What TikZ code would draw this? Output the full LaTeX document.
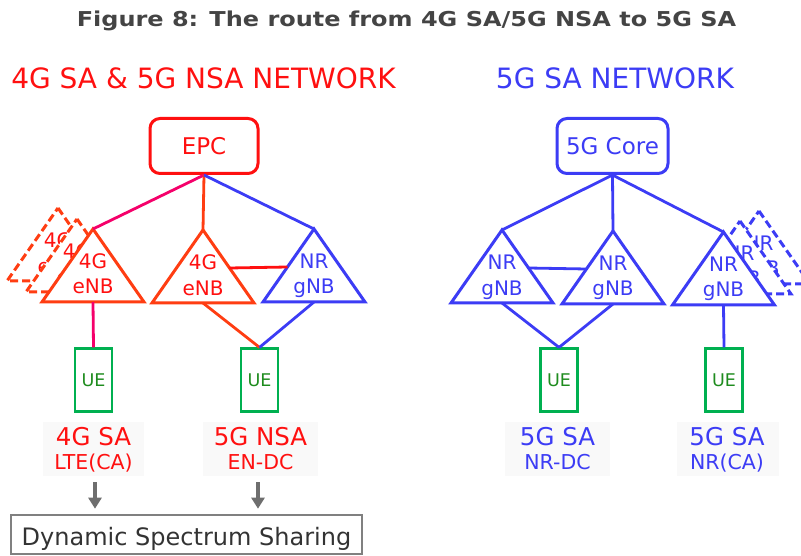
\documentclass[tikz,border=0pt]{standalone}
\usepackage{graphicx}
\usepackage{fontspec}
\setmainfont{DejaVu Sans}
\usetikzlibrary{arrows.meta}
\definecolor{cred}{HTML}{FF1010}
\definecolor{corg}{HTML}{FF3D12}
\definecolor{cpink}{HTML}{F5006A}
\definecolor{cblue}{HTML}{3C3CF5}
\definecolor{cgreen}{HTML}{00B050}
\definecolor{ctxtg}{HTML}{1E8C1E}
\definecolor{cgray}{HTML}{6E6E6E}
\definecolor{cbox}{HTML}{808080}
\definecolor{ctitle}{HTML}{444444}
\definecolor{cdss}{HTML}{333333}
\definecolor{clbg}{HTML}{F9F9F9}
\newcommand\myfs[1]{\fontsize{#1}{#1}\selectfont}
% #1 name, #2 x, #3 y (apex), #4 stroke colour, #5 extra style, #6 text colour, #7 line 1, #8 line 2
\newcommand\mytri[8]{%
  \coordinate (#1-top) at (#2,#3);
  \coordinate (#1-bot) at (#2,#3+73);
  \coordinate (#1-r) at (#2+26.5,#3+38);
  \coordinate (#1-l) at (#2-26.5,#3+38);
  \draw[tri, draw=#4, #5] (#1-top) -- ++(51,73) -- ++(-102,0) -- cycle;
  \node[tritext, text=#6] (#1-a) at (#2,#3+40) {#7};
  \node[tritext, text=#6] (#1-b) at (#2,#3+65) {#8};
}
\tikzset{
  tri/.style={line width=3pt, fill=white, miter limit=10},
  dsh/.style={dash pattern=on 8pt off 4pt},
  tritext/.style={anchor=base, inner sep=0pt, font=\myfs{20}},
  corebox/.style={draw, line width=3pt, rounded corners=10pt, fill=white, font=\myfs{23}, inner sep=0pt},
  conn/.style={line width=2.8pt},
  uebox/.style={draw=cgreen, line width=2.2pt, fill=white, minimum width=37pt, minimum height=63pt, inner sep=0pt, text=ctxtg, font=\myfs{17.5}},
  lblbg/.style={fill=clbg, minimum height=54pt, inner sep=0pt},
  lbla/.style={anchor=base, inner sep=0pt, font=\myfs{24.5}},
  lblb/.style={anchor=base, inner sep=0pt, font=\myfs{20.5}},
  garrow/.style={draw=cgray, line width=4pt, -{Triangle[length=11pt,width=13pt]}, shorten <=6pt, shorten >=5pt},
}
\begin{document}
\begin{tikzpicture}[x=1pt,y=-1pt]
\useasboundingbox (0,0) rectangle (801,556);
\clip (0,0) rectangle (801,556);
% title and headings
\node[anchor=base, inner sep=0pt, font=\bfseries\myfs{20.5}, text=ctitle] (title) at (406.5,27) {\scalebox{1.17}[1]{Figure 8: The route from 4G SA/5G NSA to 5G SA}};
\node[anchor=base, inner sep=0pt, font=\myfs{28}, text=cred] (h1) at (203.5,89) {4G SA \& 5G NSA NETWORK};
\node[anchor=base, inner sep=0pt, font=\myfs{28}, text=cblue] (h2) at (615,89) {5G SA NETWORK};
% cores
\node[corebox, draw=cred, text=cred, minimum width=108pt, minimum height=55pt] (epc) at (204,146) {EPC};
\node[corebox, draw=cblue, text=cblue, minimum width=111pt, minimum height=55pt] (core) at (612.5,146) {5G Core};
% left network triangles
\mytri{t1x}{58}{208}{corg}{dsh}{cred}{4G}{eNB}
\mytri{t1y}{77}{219}{corg}{dsh}{cred}{4G}{eNB}
\mytri{t1}{93}{229}{corg}{}{cred}{4G}{eNB}
\mytri{t2}{203}{230}{corg}{}{cred}{4G}{eNB}
\mytri{t3}{314}{229}{cblue}{}{cblue}{NR}{gNB}
% right network triangles
\mytri{t4}{502}{230}{cblue}{}{cblue}{NR}{gNB}
\mytri{t5}{613}{231}{cblue}{}{cblue}{NR}{gNB}
\mytri{t6x}{759}{211}{cblue}{dsh}{cblue}{NR}{gNB}
\mytri{t6y}{740}{221}{cblue}{dsh}{cblue}{NR}{gNB}
\mytri{t6}{723.5}{232}{cblue}{}{cblue}{NR}{gNB}
% UEs
\node[uebox] (ue1) at (93.5,380) {UE};
\node[uebox] (ue2) at (259.5,380) {UE};
\node[uebox] (ue3) at (559,380) {UE};
\node[uebox] (ue4) at (724,380) {UE};
% connectors left
\draw[conn, cpink] (epc.south) -- (t1-top);
\draw[conn, corg] (epc.south) -- (t2-top);
\draw[conn, cblue] (epc.south) -- (t3-top);
\draw[conn, cred] (t2-r) -- (t3-l);
\draw[conn, cpink] (t1-bot) -- (ue1.north);
\draw[conn, corg] (t2-bot) -- (ue2.north);
\draw[conn, cblue] (t3-bot) -- (ue2.north);
% connectors right
\draw[conn, cblue] (core.south) -- (t4-top);
\draw[conn, cblue] (core.south) -- (t5-top);
\draw[conn, cblue] (core.south) -- (t6-top);
\draw[conn, cblue] (t4-r) -- (t5-l);
\draw[conn, cblue] (t4-bot) -- (ue3.north);
\draw[conn, cblue] (t5-bot) -- (ue3.north);
\draw[conn, cblue] (t6-bot) -- (ue4.north);
% labels
\node[lblbg, minimum width=101pt] (lb1) at (93.5,449) {};
\node[lblbg, minimum width=115pt] (lb2) at (260.5,449) {};
\node[lblbg, minimum width=105pt] (lb3) at (557.5,449) {};
\node[lblbg, minimum width=102pt] (lb4) at (728,449) {};
\node[lbla, text=cred] (l1a) at (93.5,445) {4G SA};
\node[lblb, text=cred] (l1b) at (93.5,469) {LTE(CA)};
\node[lbla, text=cred] (l2a) at (260.5,445) {5G NSA};
\node[lblb, text=cred] (l2b) at (260.5,469) {EN-DC};
\node[lbla, text=cblue] (l3a) at (557.5,445) {5G SA};
\node[lblb, text=cblue] (l3b) at (557.5,469) {NR-DC};
\node[lbla, text=cblue] (l4a) at (727,445) {5G SA};
\node[lblb, text=cblue] (l4b) at (727,469) {NR(CA)};
% DSS
\node[draw=cbox, line width=2.6pt, minimum width=351pt, minimum height=39pt, inner sep=0pt, text height=21pt, text depth=0pt, text=cdss, font=\myfs{24}] (dss) at (186.5,534.5) {Dynamic Spectrum Sharing};
\draw[garrow] (lb1.south) ++(1.5,0) coordinate (a1) -- (a1 |- dss.north);
\draw[garrow] (lb2.south) ++(-2.5,0) coordinate (a2) -- (a2 |- dss.north);
\end{tikzpicture}
\end{document}
